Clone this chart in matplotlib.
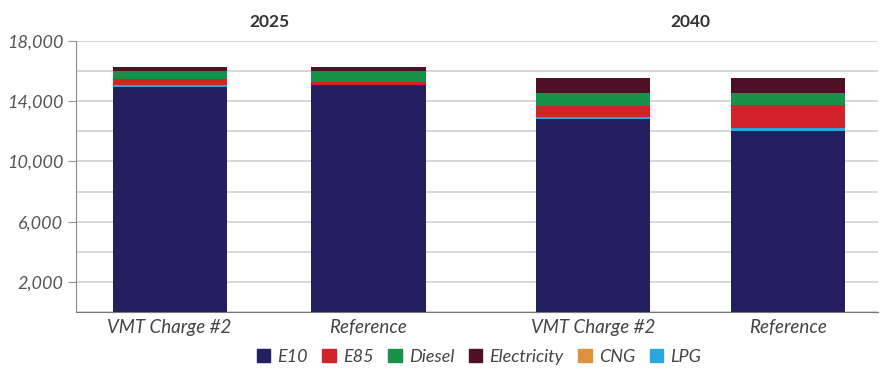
import numpy as np
import matplotlib.pyplot as plt

# fuel use per scenario
years = ["2025", "2040"]
scenarios = ["VMT Charge #2", "Reference"]
fuels = ["E10", "E85", "Diesel", "Electricity", "CNG", "LPG"]
colors = ["#231f60", "#d2232a", "#17924a", "#4e1027", "#e0913e", "#29a8df"]

# order of bars: 2025 VMT, 2025 Ref, 2040 VMT, 2040 Ref
e10 = [14950, 15050, 12810, 11990]
lpg = [100, 50, 170, 200]
cng = [0, 0, 0, 0]
e85 = [400, 200, 730, 1550]
diesel = [570, 730, 820, 780]
electricity = [270, 270, 990, 990]

stack_order = [("E10", e10), ("LPG", lpg), ("CNG", cng), ("E85", e85),
               ("Diesel", diesel), ("Electricity", electricity)]
col = dict(zip(fuels, colors))

plt.rcParams['font.family'] = ['Lato', 'DejaVu Sans']
fig = plt.figure(figsize=(8.87, 3.72), dpi=100)
ax = fig.add_axes([0.0857, 0.161, 0.904, 0.729])

x = np.array([0, 1, 2.13, 3.11])
w = 0.573
bottom = np.zeros(4)
for name, vals in stack_order:
    ax.bar(x, vals, w, bottom=bottom, color=col[name], zorder=3)
    bottom += np.array(vals)

ax.set_xlim(-0.47, 3.56)
ax.set_ylim(0, 18000)
ax.set_yticks([2000, 6000, 10000, 14000, 18000])
ax.set_yticklabels(["2,000", "6,000", "10,000", "14,000", "18,000"],
                   fontsize=13, style='italic', color='#555555')
ax.set_yticks(np.arange(0, 18001, 2000), minor=True)
ax.yaxis.grid(True, which='both', color='#d4d4d4', linewidth=1.3, zorder=0)
ax.tick_params(axis='y', which='major', length=6, color='#999999', pad=3)
ax.tick_params(axis='y', which='minor', length=0)
ax.set_xticks(x)
ax.set_xticklabels(scenarios * 2, fontsize=13.5, style='italic', color='#444444')
ax.tick_params(axis='x', length=0, pad=5)
for s in ['top', 'right']:
    ax.spines[s].set_visible(False)
ax.spines['left'].set_color('#888888')
ax.spines['bottom'].set_color('#777777')

for i, yr in enumerate(years):
    cx = (x[2 * i] + x[2 * i + 1]) / 2
    ax.text(cx, 1.07, yr, transform=ax.get_xaxis_transform(), ha='center',
            va='center', fontsize=12.5, fontweight='bold', color='#333333')

handles = [plt.Rectangle((0, 0), 1, 1, color=c) for c in colors]
fig.legend(handles, fuels, loc='center', bbox_to_anchor=(0.54, 0.04), ncol=6,
           frameon=False, handlelength=0.75, handleheight=0.75, handletextpad=0.4,
           columnspacing=0.8, prop={'size': 13, 'style': 'italic'},
           labelcolor='#444444')

fig.savefig("out.png", dpi=100)
